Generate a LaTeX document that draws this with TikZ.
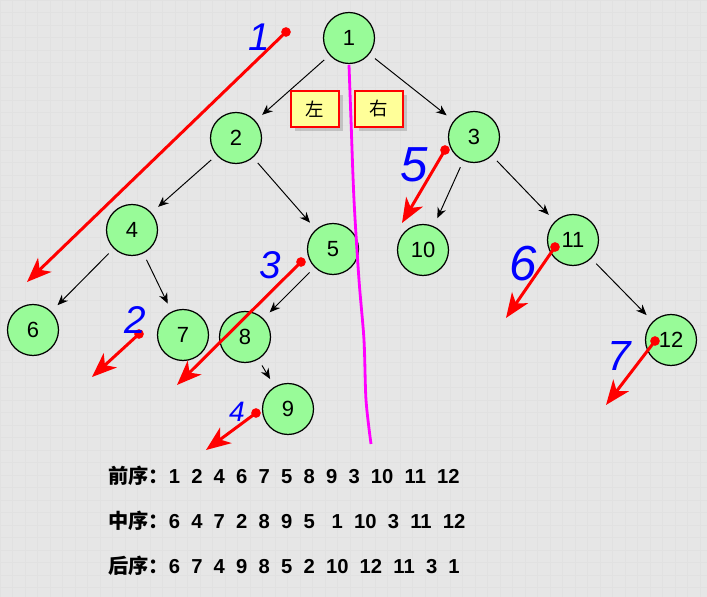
\documentclass[tikz,border=0pt]{standalone}
\usepackage{fontspec}
\setmainfont{Liberation Sans}
\newfontfamily\cjk{Noto Sans CJK SC}
\usetikzlibrary{arrows.meta,shadows}
\definecolor{NodeGreen}{RGB}{152,251,152}
\definecolor{BoxYellow}{RGB}{255,255,153}
\definecolor{PenBlue}{RGB}{0,0,255}
\definecolor{PenRed}{RGB}{255,0,0}
\definecolor{PenMagenta}{RGB}{255,0,255}
\definecolor{BgGrey}{RGB}{230,230,230}
\definecolor{GridGrey}{RGB}{225,225,225}

\begin{document}
\begin{tikzpicture}[
  x=0.02cm, y=-0.02cm,
  treenode/.style={circle, draw=black, fill=NodeGreen, line width=0.7pt, minimum size=1.02cm, inner sep=0pt, font=\fontsize{12.5}{12.5}\selectfont},
  sidebox/.style={draw=PenRed, fill=BoxYellow, line width=1.2pt, minimum width=0.96cm, minimum height=0.72cm, font=\cjk\fontsize{10.5}{11}\selectfont, drop shadow={shadow xshift=2pt, shadow yshift=-2pt, opacity=0.35}},
  edge/.style={-{Stealth[length=6pt,width=5pt]}, line width=0.55pt, shorten <=4pt, shorten >=5pt},
  visit/.style={-{Stealth[length=14pt,width=11pt,inset=4pt]}, PenRed, line width=1.7pt},
  startdot/.style={circle, fill=PenRed, inner sep=0pt, minimum size=5.5pt},
  penno/.style={PenBlue, font=\itshape\fontsize{22}{22}\selectfont},
  orderrow/.style={anchor=west, font=\bfseries\fontsize{11.5}{11.5}\selectfont}
]
% background and faint grid
\fill[BgGrey] (0,0) rectangle (707,597);
\useasboundingbox (0,0) rectangle (707,597);
\foreach \gx in {0,12.5,...,707} \draw[GridGrey, line width=0.3pt] (\gx,0) -- (\gx,597);
\foreach \gy in {0,12.5,...,597} \draw[GridGrey, line width=0.3pt] (0,\gy) -- (707,\gy);

% tree
\node[treenode] (n1) at (349,38) {1};
\node[treenode] (n2) at (236,138) {2};
\node[treenode] (n3) at (474,137) {3};
\node[treenode] (n4) at (132,230) {4};
\node[treenode] (n5) at (333,249) {5};
\node[treenode] (n6) at (33,330) {6};
\node[treenode] (n7) at (183,335) {7};
\node[treenode] (n8) at (245,337) {8};
\node[treenode] (n9) at (288,409) {9};
\node[treenode] (n10) at (423,250) {10};
\node[treenode] (n11) at (573,240) {11};
\node[treenode] (n12) at (671,340) {12};

\draw[edge] (n1) -- (n2);
\draw[edge] (n1) -- (n3);
\draw[edge] (n2) -- (n4);
\draw[edge] (n2) -- (n5);
\draw[edge] (n4) -- (n6);
\draw[edge] (n4) -- (n7);
\draw[edge] (n5) -- (n8);
\draw[edge] (n8) -- (n9);
\draw[edge] (n3) -- (n10);
\draw[edge] (n3) -- (n11);
\draw[edge] (n11) -- (n12);

% left / right split
\node[sidebox] (left) at (315,109) {左};
\node[sidebox] (right) at (379,109) {右};
\draw[PenMagenta, line width=1.6pt] plot[smooth] coordinates {(349,65) (351,120) (354,200) (359,280) (364,340) (366,400) (371,444)};

% traversal strokes
\node[startdot] (d1) at (286,32) {};
\node[startdot] (d2) at (139,334) {};
\node[startdot] (d3) at (301,262) {};
\node[startdot] (d4) at (256,413) {};
\node[startdot] (d5) at (445,150) {};
\node[startdot] (d6) at (555,247) {};
\node[startdot] (d7) at (655,341) {};
\coordinate (e1) at (27,282);
\coordinate (e2) at (92,377);
\coordinate (e3) at (177,385);
\coordinate (e4) at (206,450);
\coordinate (e5) at (402,223);
\coordinate (e6) at (506,318);
\coordinate (e7) at (606,405);
\foreach \k in {1,...,7} \draw[visit] (d\k.center) -- (e\k);

\node[penno] (p1) at (259,37) {1};
\node[penno] (p2) at (135,320) {2};
\node[penno] (p3) at (270,265) {3};
\node[penno, font=\itshape\fontsize{16}{16}\selectfont] (p4) at (237,412) {4};
\node[penno, font=\itshape\fontsize{28}{28}\selectfont] (p5) at (414,165) {5};
\node[penno, font=\itshape\fontsize{28}{28}\selectfont] (p6) at (523,264) {6};
\node[penno, font=\itshape\fontsize{24}{24}\selectfont] (p7) at (619,356) {7};

% orders
\node[orderrow] (pre) at (102,476) {{\cjk 前序：}1~~2~~4~~6~~7~~5~~8~~9~~3~~10~~11~~12};
\node[orderrow] (in) at (102,521) {{\cjk 中序：}6~~4~~7~~2~~8~~9~~5~~~1~~10~~3~~11~~12};
\node[orderrow] (post) at (102,566) {{\cjk 后序：}6~~7~~4~~9~~8~~5~~2~~10~~12~~11~~3~~1};
\end{tikzpicture}
\end{document}
